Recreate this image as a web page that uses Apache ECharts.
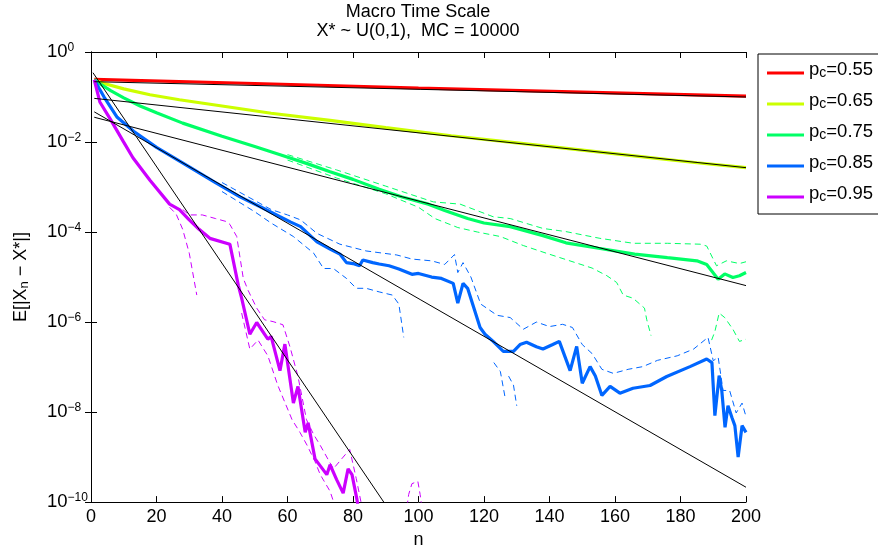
<!DOCTYPE html>
<html>
<head>
<meta charset="utf-8">
<script src="https://cdn.jsdelivr.net/npm/echarts@6/dist/echarts.min.js"></script>
<style>
html,body{margin:0;padding:0;background:#fff;}
#chart{width:878px;height:554px;}
</style>
</head>
<body>
<div id="chart"></div>
<script>
var names = ['p_c=0.55', 'p_c=0.65', 'p_c=0.75', 'p_c=0.85', 'p_c=0.95'];
var colors = ['#ff0000', '#ccff00', '#00ff66', '#0066ff', '#cc00ff'];
var xTicks = [0, 20, 40, 60, 80, 100, 120, 140, 160, 180, 200];

var red55 = [[1,-0.61],[50,-0.70],[100,-0.80],[150,-0.89],[200,-0.98]];
var yel65 = [[1,-0.62],[4,-0.70],[10,-0.82],[18,-0.95],[27,-1.06],[40,-1.20],[55,-1.36],[73,-1.52],[90,-1.68],
  [110,-1.86],[130,-2.02],[150,-2.18],[170,-2.34],[185,-2.46],[200,-2.57]];
var grn75 = [[1,-0.62],[3,-0.72],[6,-0.86],[10,-1.02],[15,-1.20],[20,-1.35],[28,-1.58],[40,-1.87],[50,-2.10],
  [58,-2.29],[66,-2.48],[73,-2.66],[80,-2.83],[88,-3.05],[95,-3.22],[103,-3.38],[108,-3.52],[115,-3.70],
  [120,-3.80],[128,-3.88],[138,-4.08],[145,-4.24],[155,-4.36],[166,-4.49],[176,-4.57],[185,-4.64],[188,-4.72],
  [191.5,-5.05],[193.5,-4.93],[196,-5.01],[198,-4.97],[200,-4.90]];
var blu85 = [[1,-0.62],[4,-1.0],[8,-1.45],[13,-1.76],[20,-2.12],[30,-2.55],[38,-2.9],[45.5,-3.22],[52,-3.45],
  [57.7,-3.66],[61,-3.78],[64,-3.88],[69,-4.22],[73,-4.38],[76,-4.49],[78,-4.68],[80,-4.70],[82,-4.75],[83,-4.62],
  [86,-4.68],[88,-4.71],[91,-4.75],[94,-4.82],[98,-4.94],[100,-4.92],[104,-5.0],[107,-5.03],[110.6,-5.14],
  [112,-5.58],[113.6,-5.14],[115,-5.25],[118.8,-6.12],[120.3,-6.27],[122.8,-6.43],[125.9,-6.65],[129,-6.65],
  [131,-6.5],[133,-6.45],[136,-6.55],[138,-6.6],[141,-6.5],[143,-6.43],[146.3,-7.08],[148.3,-6.54],[150,-7.36],
  [152.4,-6.99],[154,-7.2],[156,-7.63],[158.5,-7.43],[161.5,-7.58],[165.5,-7.47],[170.7,-7.41],[175.8,-7.21],
  [182.9,-6.99],[188,-6.82],[189.6,-6.9],[190.5,-8.08],[191.8,-7.19],[192.6,-7.52],[193.6,-8.34],[194.5,-7.86],
  [195.7,-8.12],[196.6,-8.3],[197.6,-9.0],[198.8,-8.3],[200,-8.45]];
var pur95 = [[1,-0.62],[2.7,-1.11],[5.8,-1.48],[9.8,-1.98],[12.8,-2.35],[18,-2.85],[24,-3.38],[27,-3.5],[30,-3.73],
  [33,-3.94],[36.3,-4.14],[42.4,-4.27],[45,-5.19],[46,-5.47],[48.5,-6.27],[50.6,-6.01],[54,-6.38],[55,-6.32],
  [57.7,-7.08],[59.2,-6.49],[61.8,-7.8],[63.2,-7.43],[65.4,-8.45],[66.3,-8.24],[68.4,-9.04],[72,-9.39],[73,-9.17],
  [75,-9.5],[77,-9.8],[78.5,-9.26],[79.7,-9.39],[81.2,-9.94],[82,-10.3]];

// dashed confidence bands (pieces, gaps where the lower bound vanishes)
var grnUp = [[60,-2.28],[75,-2.62],[90,-2.98],[104.5,-3.33],[112.7,-3.38],[122.8,-3.66],[128,-3.7],[138,-3.92],
  [145,-3.99],[155.4,-4.14],[165.6,-4.25],[176,-4.25],[186,-4.27],[188,-4.31],[191,-4.75],[194,-4.64],[198,-4.7],[200,-4.66]];
var grnLo1 = [[60,-2.4],[75,-2.8],[90,-3.15],[100,-3.45],[105,-3.7],[112,-3.9],[118,-4.0],[125,-4.1],[132,-4.3],
  [139,-4.47],[153,-4.8],[157.5,-4.97],[160.5,-5.12],[162.5,-5.4],[165.5,-5.47],[169,-5.69],[169.7,-5.95],[171,-6.3]];
var grnLo2 = [[189.5,-6.4],[190.5,-6.21],[191.8,-5.8],[193.5,-5.9],[196,-6.16],[198,-6.43],[200,-6.38]];
var bluUp = [[40,-2.9],[50,-3.3],[55,-3.5],[60,-3.62],[64,-3.73],[69,-4.03],[76,-4.27],[84,-4.42],[93.4,-4.51],
  [98,-4.6],[104,-4.64],[108,-4.72],[111,-4.5],[112,-4.9],[113.6,-4.68],[116,-5.0],[119,-5.6],[121,-5.7],
  [124,-5.85],[128,-5.9],[132,-6.16],[136,-6.0],[140,-6.1],[144,-6.05],[147,-6.12],[150,-6.5],[153,-6.7],
  [156,-7.05],[159.5,-7.14],[164,-7.05],[168.5,-6.99],[173,-6.85],[179,-6.75],[184,-6.6],[188.4,-6.34],
  [190,-6.86],[191.5,-6.78],[193,-7.52],[195,-7.52],[197,-8.02],[198.8,-7.8],[200,-8.1]];
var bluLo1 = [[40,-3.1],[50,-3.55],[55,-3.8],[61.8,-4.1],[68,-4.47],[71,-4.81],[74,-4.81],[78,-5.03],[81,-5.25],
  [84,-5.25],[88,-5.33],[92,-5.4],[94,-5.6],[95.5,-6.34]];
var bluLo2 = [[123,-6.9],[125,-7.1],[126.5,-7.7]];
var bluLo3 = [[127.5,-7.2],[129,-7.4],[130,-7.86]];
var purUp1 = [[28,-3.5],[30,-3.62],[34,-3.62],[38,-3.7],[41.5,-3.77],[42.4,-3.83],[44.5,-4.1],[46.5,-5.03],
  [48,-5.3],[50.6,-5.69],[53,-5.95],[55.6,-5.99],[58.6,-6.06],[60.8,-6.56],[63.2,-7.21],[65.8,-8.17],[68,-8.5],
  [70,-8.74],[74,-9.26],[77,-9.0],[79,-8.83],[81,-9.48],[83,-10.2]];
var purUp2 = [[96.5,-10.1],[97,-9.83],[98,-9.59],[99.8,-9.54],[100.5,-9.83],[101,-10.1]];
var purLo1 = [[24,-3.45],[26,-3.6],[28,-3.94],[30,-4.47],[32.3,-5.4]];
var purLo2 = [[46,-5.8],[48.5,-6.6],[51,-6.4],[54,-6.75],[57,-7.4],[61.4,-8.17],[63.8,-8.45],[66,-8.74],
  [68.4,-9.1],[70,-9.39],[73,-9.76],[75,-10.2]];

// fitted exponential rates (straight on the log axis)
var fit55 = [[1,-0.66],[200,-1.0]];
var fit65 = [[1,-1.03],[200,-2.57]];
var fit75 = [[1,-1.45],[200,-5.19]];
var fit85 = [[1,-1.33],[200,-9.67]];
var fit95 = [[0.6,-0.46],[89.4,-10]];

var mains = [red55, yel65, grn75, blu85, pur95];
var bands = [[], [], [grnUp, grnLo1, grnLo2], [bluUp, bluLo1, bluLo2, bluLo3], [purUp1, purUp2, purLo1, purLo2]];
var fits = [fit55, fit65, fit75, fit85, fit95];

var FONT = 'Liberation Sans';

function pts(a) {
  return a.map(function (p) { return [p[0], Math.pow(10, p[1])]; });
}

var series = [];
bands.forEach(function (list, i) {
  list.forEach(function (b) {
    series.push({
      type: 'line', data: pts(b), symbol: 'none', silent: true, z: 2,
      lineStyle: { color: colors[i], width: 1, type: [6, 4] }
    });
  });
});
mains.forEach(function (m, i) {
  series.push({
    name: names[i], type: 'line', data: pts(m), symbol: 'none', z: 3,
    itemStyle: { color: colors[i] },
    lineStyle: { color: colors[i], width: 3.2 }
  });
});
fits.forEach(function (f) {
  series.push({
    type: 'line', data: pts(f), symbol: 'none', silent: true, z: 4,
    lineStyle: { color: '#000', width: 1 }
  });
});

function expLabel(v) {
  var e = Math.round(Math.log10(v));
  return '{b|10}{e|' + (e < 0 ? '\u2212' + (-e) : e) + '}';
}

var axisCommon = {
  axisLine: { show: true, lineStyle: { color: '#000', width: 1 } },
  axisTick: { show: true, inside: true, length: 6, lineStyle: { color: '#000' } },
  splitLine: { show: false }
};

var myChart = echarts.init(document.getElementById('chart'));
var option = {
  animation: false,
  backgroundColor: '#fff',
  title: {
    text: 'Macro Time Scale\nX* ~ U(0,1),  MC = 10000',
    left: 418, top: 3, textAlign: 'center', padding: 0,
    textStyle: { fontFamily: FONT, fontSize: 18, fontWeight: 'normal', color: '#000', lineHeight: 19 }
  },
  legend: {
    orient: 'vertical', left: 758, top: 54,
    padding: [6, 14, 4, 9], itemGap: 5, itemWidth: 37, itemHeight: 3, itemTextGap: 5,
    borderColor: '#000', borderWidth: 1, borderRadius: 0,
    icon: 'rect',
    data: names,
    formatter: function (name) {
      return '{p|p}{c|c}{p|=' + name.split('=')[1] + '}';
    },
    textStyle: {
      color: '#000',
      rich: {
        p: { fontFamily: FONT, fontSize: 18.5, padding: [0, 0, 7, 0], lineHeight: 20 },
        c: { fontFamily: FONT, fontSize: 14, lineHeight: 15 }
      }
    }
  },
  grid: { left: 91, top: 52, width: 655, height: 459 },
  xAxis: [
    Object.assign({
      type: 'value', min: 0, max: 200, interval: 20, position: 'bottom',
      name: 'n', nameLocation: 'middle', nameGap: 26,
      nameTextStyle: { fontFamily: FONT, fontSize: 18, color: '#000' },
      axisLabel: {
        fontFamily: FONT, fontSize: 18, color: '#000', margin: 6,
        formatter: function (v) { return xTicks.indexOf(v) >= 0 ? String(v) : ''; }
      }
    }, axisCommon),
    Object.assign({
      type: 'value', min: 0, max: 200, interval: 20, position: 'top',
      axisLabel: { show: false }
    }, axisCommon)
  ],
  yAxis: [
    Object.assign({
      type: 'log', logBase: 10, min: 1e-10, max: 1, interval: 2, position: 'left',
      name: '{t|E[|X}{s|n}{t| \u2212 X*|]}', nameLocation: 'middle', nameGap: 55, nameRotate: 90,
      nameTextStyle: {
        color: '#000',
        rich: {
          t: { fontFamily: FONT, fontSize: 18, padding: [0, 0, 6, 0], lineHeight: 20 },
          s: { fontFamily: FONT, fontSize: 13, lineHeight: 15 }
        }
      },
      axisLabel: {
        margin: 44, align: 'left', color: '#000', formatter: expLabel,
        rich: {
          b: { fontFamily: FONT, fontSize: 18.5, lineHeight: 20 },
          e: { fontFamily: FONT, fontSize: 12, padding: [0, 0, 8, 0], lineHeight: 14 }
        }
      }
    }, axisCommon),
    Object.assign({
      type: 'log', logBase: 10, min: 1e-10, max: 1, interval: 2, position: 'right',
      axisLabel: { show: false }
    }, axisCommon)
  ],
  series: series
};
myChart.setOption(option);
</script>
</body>
</html>
